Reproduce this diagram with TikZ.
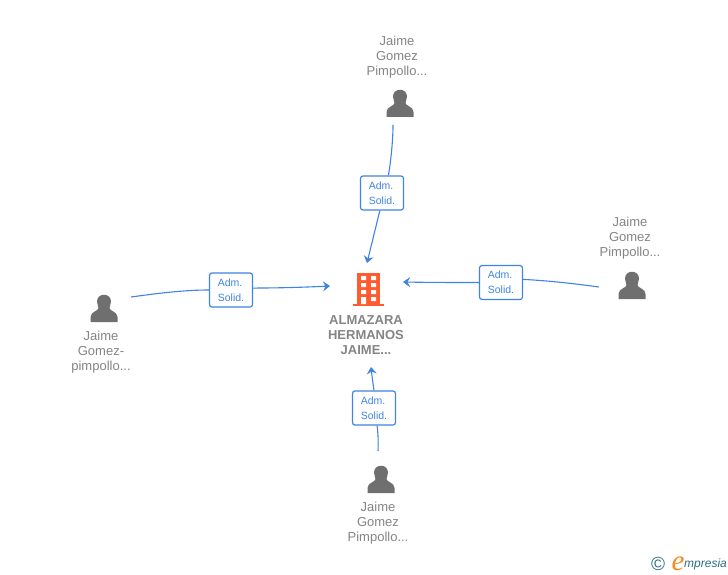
\documentclass[tikz,border=0pt]{standalone}
\usepackage{fontspec}
\setmainfont{Liberation Sans}
\newfontfamily\logofont{Liberation Serif}
\definecolor{linkblue}{HTML}{3F84E5}
\definecolor{labelgrey}{HTML}{858585}
\definecolor{icongrey}{HTML}{6F6F6F}
\definecolor{buildorange}{HTML}{FF5B2E}
\definecolor{logoteal}{HTML}{2F6F85}
\definecolor{logoorange}{HTML}{F28A1E}
\usetikzlibrary{arrows.meta}
\tikzset{
  x=1pt,y=-1pt,
  persontext/.style={font=\fontsize{13}{15}\selectfont,text=labelgrey,align=center,inner sep=0pt},
  orgtext/.style={font=\fontsize{13}{15}\selectfont\bfseries,text=labelgrey,align=center,inner sep=0pt},
  relbox/.style={draw=linkblue,fill=white,rounded corners=2.5pt,line width=1.2pt,minimum width=43pt,minimum height=34pt,inner sep=0pt,align=left,text=linkblue,font=\fontsize{10.5}{15}\selectfont},
  link/.style={draw=linkblue,line width=1.1pt},
  linkend/.style={link,-{Stealth[length=7pt,width=10pt,inset=2.5pt]}},
  person/.pic={
    \fill[icongrey] (-7,-6.5) .. controls (-7,-15.5) and (7,-15.5) .. (7,-6.5)
      .. controls (7,-3.5) and (5.5,-2) .. (5.5,0) .. controls (5.5,3) and (13.5,3.5) .. (13.5,9)
      -- (13.5,14) -- (-13.5,14) -- (-13.5,9)
      .. controls (-13.5,3.5) and (-5.5,3) .. (-5.5,0)
      .. controls (-5.5,-2) and (-7,-3.5) .. (-7,-6.5) -- cycle;
  }
}
\begin{document}
\begin{tikzpicture}
\useasboundingbox[fill=white] (0,0) rectangle (728,575);

% people
\pic at (400,103) {person};
\pic at (632,285) {person};
\pic at (104,308) {person};
\pic at (381,479) {person};
\node[persontext] (ptop) at (397,57) {Jaime\\Gomez\\Pimpollo...};
\node[persontext] (pright) at (630,238) {Jaime\\Gomez\\Pimpollo...};
\node[persontext] (pleft) at (101,352) {Jaime\\Gomez-\\pimpollo...};
\node[persontext] (pbottom) at (378,523) {Jaime\\Gomez\\Pimpollo...};

% organisation
\fill[buildorange] (357,273) rectangle (379.5,304);
\fill[buildorange] (352.5,303.5) rectangle (384,306);
\fill[white] (361,276) rectangle (366,280) (371,276) rectangle (376,280)
  (361,283) rectangle (366,287) (371,283) rectangle (376,287)
  (361,290) rectangle (366,294) (371,290) rectangle (376,294)
  (361,297) rectangle (366,304) (371,297) rectangle (376,301);
\node[orgtext] (org) at (366,335) {ALMAZARA\\HERMANOS\\JAIME...};

% connector ends
\coordinate (stop) at (393,125);
\coordinate (etop) at (367,263);
\coordinate (sright) at (599,287);
\coordinate (eright) at (403,282);
\coordinate (sleft) at (131,297);
\coordinate (eleft) at (330,286);
\coordinate (sbottom) at (378,451);
\coordinate (ebottom) at (371,367);

% label boxes
\node[relbox] (ltop) at (382,193) {Adm.\\Solid.};
\node[relbox] (lright) at (501,282.5) {Adm.\\Solid.};
\node[relbox] (lleft) at (231,290) {Adm.\\Solid.};
\node[relbox] (lbottom) at (374,408) {Adm.\\Solid.};

% connectors
\draw[link] (stop) .. controls (393,140) and (391,160) .. (ltop.70);
\draw[linkend] (ltop.263) -- (etop);
\draw[link] (sright) .. controls (570,283) and (545,280.5) .. (lright.8);
\draw[linkend] (lright.west) .. controls (460,282.5) and (430,282.5) .. (eright);
\draw[link] (sleft) .. controls (160,293) and (185,290) .. (lleft.west);
\draw[linkend] (lleft.5) .. controls (275,288) and (300,287.5) .. (eleft);
\draw[link] (sbottom) .. controls (378.5,442) and (378,433) .. (lbottom.280);
\draw[linkend] (lbottom.north) .. controls (373,384) and (372,376) .. (ebottom);

% logo
\node[inner sep=0pt,text=logoteal,font=\fontsize{19}{19}\selectfont] (copy) at (658,564) {©};
\node[inner sep=0pt,text=logoorange,font=\logofont\itshape\fontsize{29}{29}\selectfont] (elogo) at (678,563.5) {e};
\node[inner sep=0pt,text=logoteal,font=\itshape\fontsize{12}{14}\selectfont,anchor=west] (mp) at (684,564) {mpresia};
\end{tikzpicture}
\end{document}
